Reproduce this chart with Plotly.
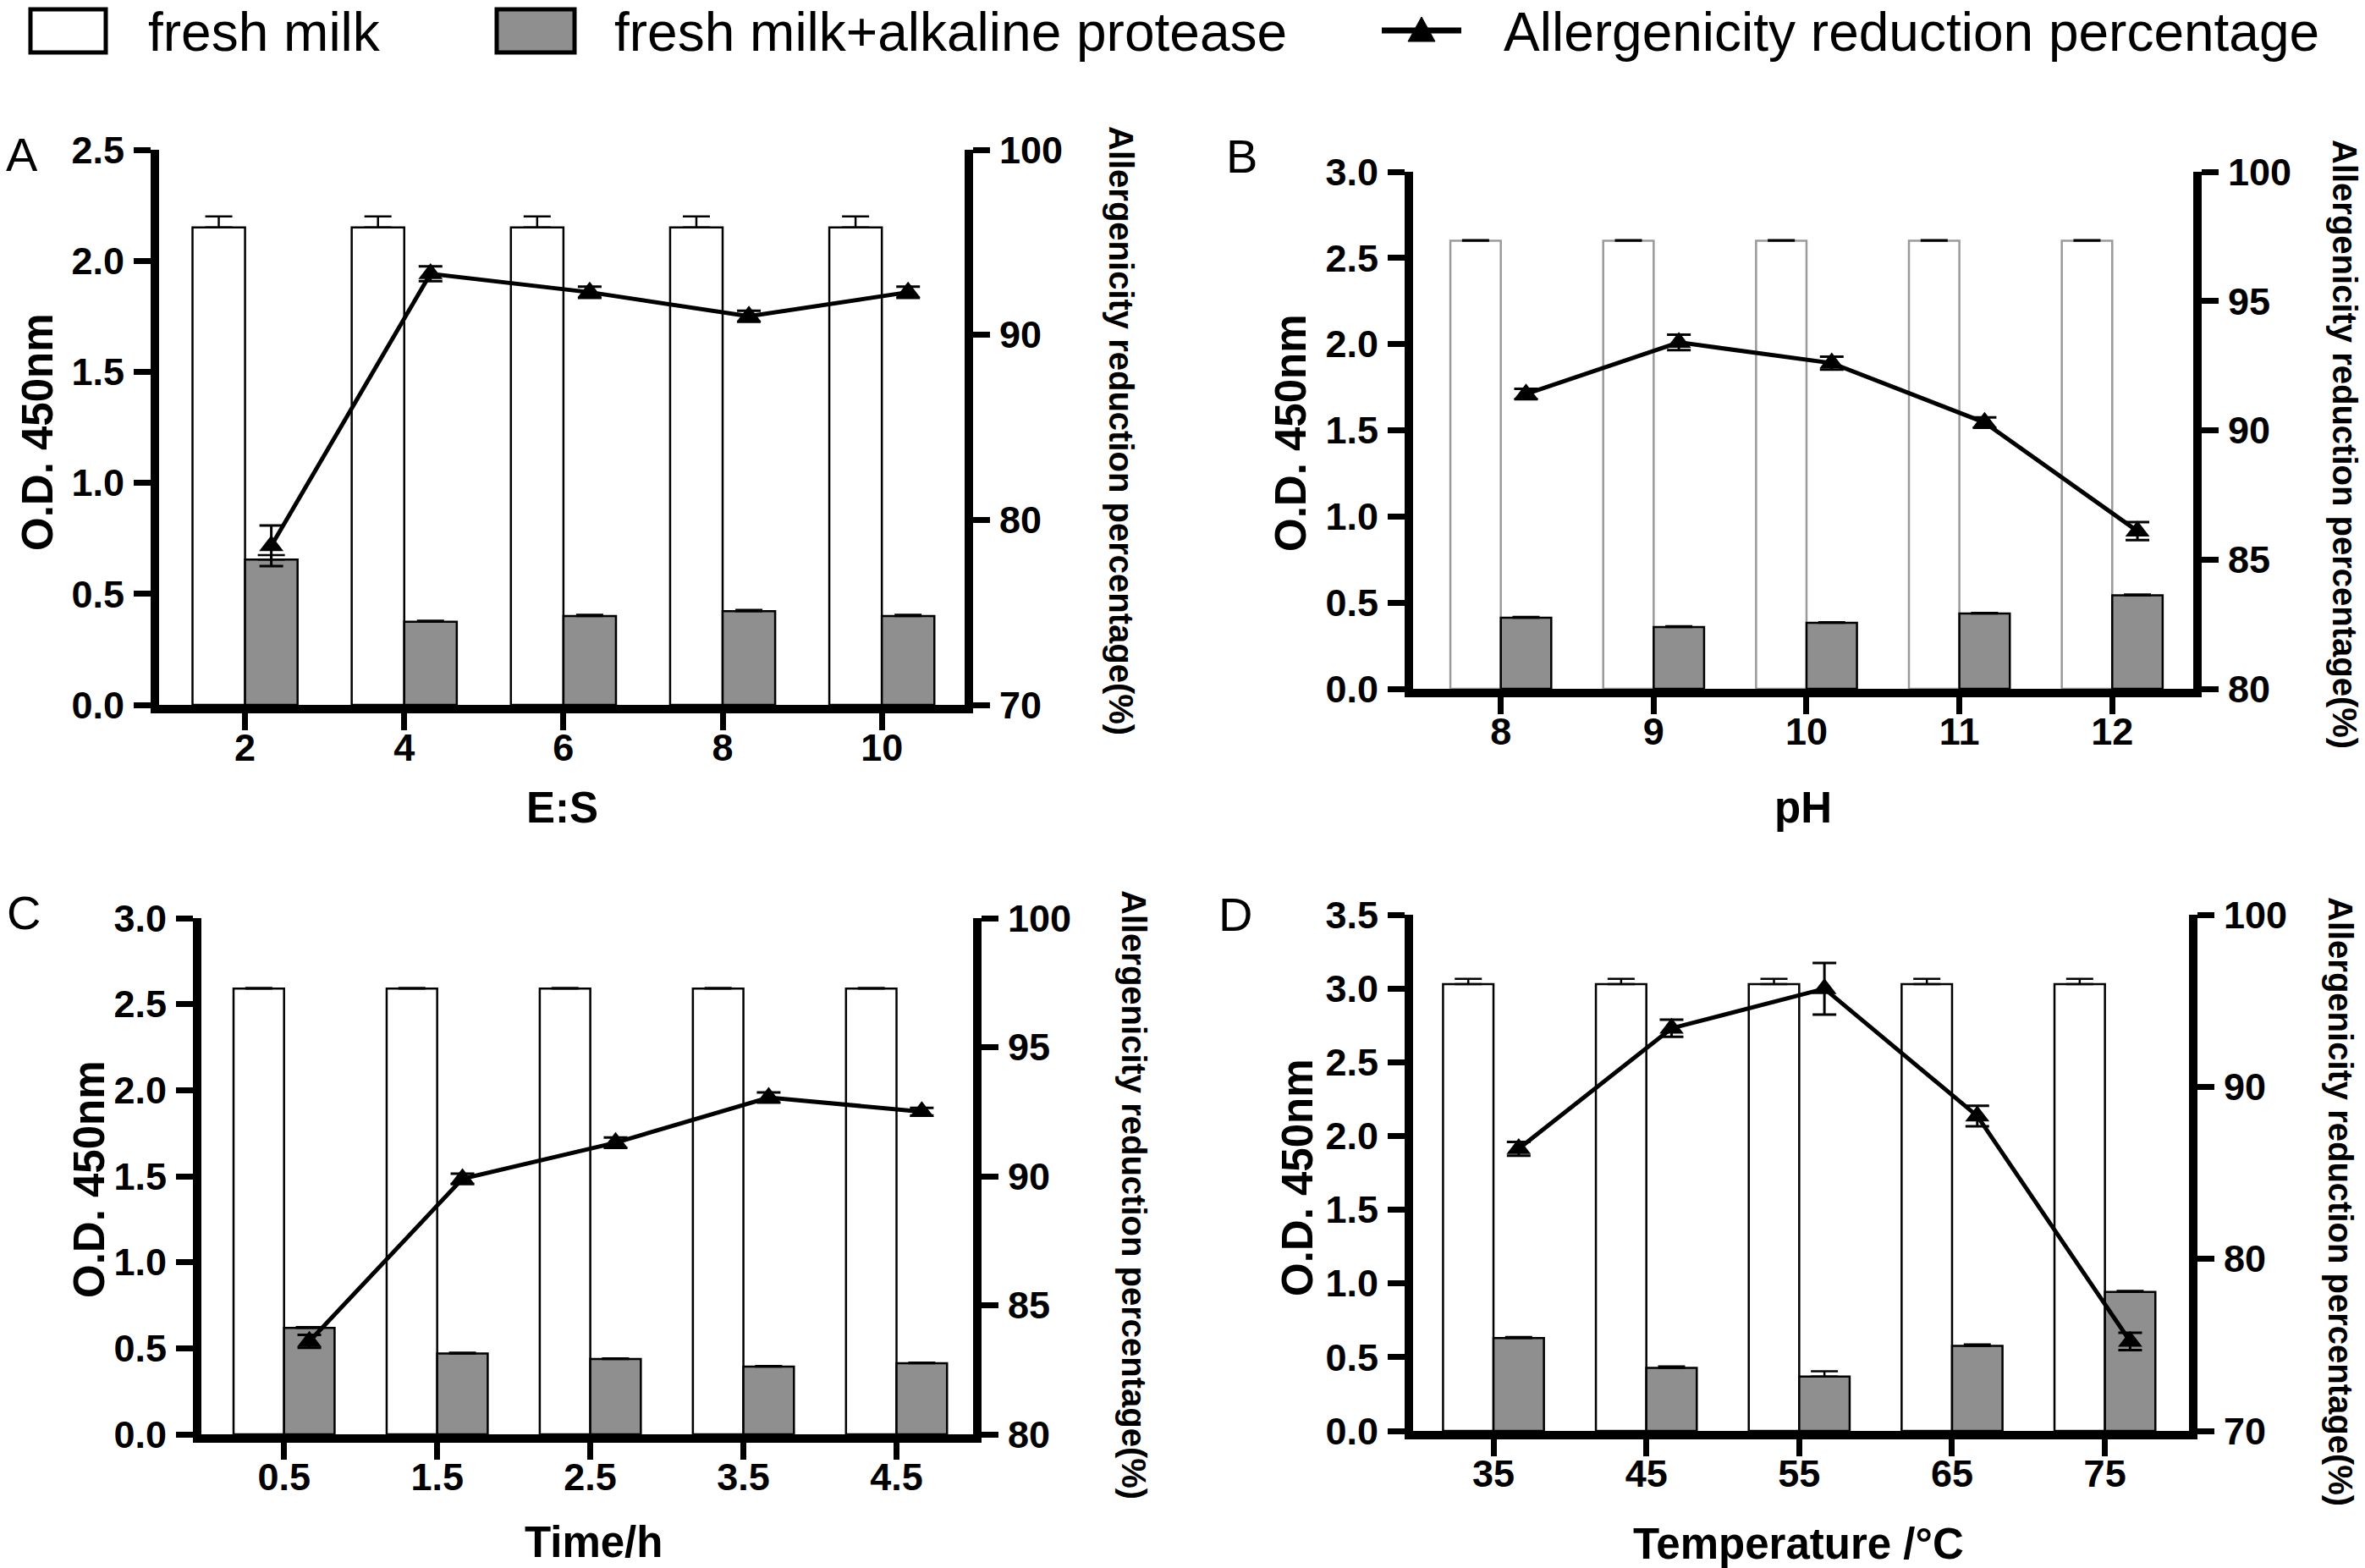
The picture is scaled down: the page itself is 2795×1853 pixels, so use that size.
import plotly.graph_objects as go

W, H = 2795, 1853
FONT = "Liberation Sans, Arial, Helvetica, sans-serif"

# ---------------- data ----------------
A_labels = ["2", "4", "6", "8", "10"]
A_fresh = [2.15, 2.15, 2.15, 2.15, 2.15]
A_fresh_err = [0.05, 0.05, 0.05, 0.05, 0.05]
A_prot = [0.655, 0.374, 0.400, 0.422, 0.400]
A_prot_err = [0.02, 0.005, 0.006, 0.006, 0.006]
A_red = [78.6, 93.3, 92.3, 91.0, 92.3]
A_red_err = [1.1, 0.4, 0.3, 0.3, 0.3]

B_labels = ["8", "9", "10", "11", "12"]
B_fresh = [2.60, 2.60, 2.60, 2.60, 2.60]
B_fresh_err = [0.004, 0.004, 0.004, 0.004, 0.004]
B_prot = [0.413, 0.359, 0.383, 0.437, 0.543]
B_prot_err = [0.004, 0.004, 0.004, 0.004, 0.004]
B_red = [91.4, 93.4, 92.6, 90.3, 86.1]
B_red_err = [0.2, 0.3, 0.25, 0.2, 0.35]

C_labels = ["0.5", "1.5", "2.5", "3.5", "4.5"]
C_fresh = [2.59, 2.59, 2.59, 2.59, 2.59]
C_fresh_err = [0.004, 0.004, 0.004, 0.004, 0.004]
C_prot = [0.618, 0.470, 0.438, 0.393, 0.413]
C_prot_err = [0.005, 0.004, 0.004, 0.004, 0.004]
C_red = [83.6, 89.9, 91.3, 93.05, 92.5]
C_red_err = [0.25, 0.2, 0.2, 0.2, 0.15]

D_labels = ["35", "45", "55", "65", "75"]
D_fresh = [3.03, 3.03, 3.03, 3.03, 3.03]
D_fresh_err = [0.035, 0.035, 0.035, 0.035, 0.035]
D_prot = [0.629, 0.428, 0.369, 0.576, 0.942]
D_prot_err = [0.008, 0.01, 0.035, 0.01, 0.008]
D_red = [86.4, 93.4, 95.7, 88.3, 75.2]
D_red_err = [0.4, 0.5, 1.5, 0.6, 0.5]

X_TITLES = ["E:S", "pH", "Time/h", "Temperature /°C"]
Y_TITLE = "O.D. 450nm"
Y2_TITLE = "Allergenicity reduction percentage(%)"
LEGEND_NAMES = ["fresh milk", "fresh milk+alkaline protease", "Allergenicity reduction percentage"]

GRAY = "#8f8f8f"
BARGAP = 0.34

# ---------------- layout geometry (pixels) ----------------
panels = [
    dict(letter="A", labels=A_labels, fresh=A_fresh, fresh_err=A_fresh_err, prot=A_prot, prot_err=A_prot_err,
         red=A_red, red_err=A_red_err, x0=188, x1=1140, ytop=177, ybot=833, xr=[-0.54, 4.52],
         yr=[0, 2.5], y2r=[70, 100], y2d=10, white_line="black",
         letter_pos=(26, 182), ytitle_pos=(45, 511), y2title_pos=(1325, 509), xtitle_pos=(664, 955)),
    dict(letter="B", labels=B_labels, fresh=B_fresh, fresh_err=B_fresh_err, prot=B_prot, prot_err=B_prot_err,
         red=B_red, red_err=B_red_err, x0=1670, x1=2592, ytop=203, ybot=814, xr=[-0.574, 4.53],
         yr=[0, 3.0], y2r=[80, 100], y2d=5, white_line="#9a9a9a",
         letter_pos=(1467, 185), ytitle_pos=(1525, 512), y2title_pos=(2771, 525), xtitle_pos=(2131, 955)),
    dict(letter="C", labels=C_labels, fresh=C_fresh, fresh_err=C_fresh_err, prot=C_prot, prot_err=C_prot_err,
         red=C_red, red_err=C_red_err, x0=238, x1=1150, ytop=1085, ybot=1695, xr=[-0.54, 4.5],
         yr=[0, 3.0], y2r=[80, 100], y2d=5, white_line="black",
         letter_pos=(28, 1078), ytitle_pos=(105, 1394), y2title_pos=(1340, 1412), xtitle_pos=(701, 1822)),
    dict(letter="D", labels=D_labels, fresh=D_fresh, fresh_err=D_fresh_err, prot=D_prot, prot_err=D_prot_err,
         red=D_red, red_err=D_red_err, x0=1670, x1=2587, ytop=1081, ybot=1691, xr=[-0.526, 4.55],
         yr=[0, 3.5], y2r=[70, 100], y2d=10, white_line="black",
         letter_pos=(1460, 1080), ytitle_pos=(1533, 1392), y2title_pos=(2766, 1420), xtitle_pos=(2125, 1824)),
]


def fx(px):
    return px / W


def fy(py):
    return 1 - py / H


fig = go.Figure()
layout = dict(
    width=W, height=H, margin=dict(l=0, r=0, t=0, b=0, pad=0, autoexpand=False),
    plot_bgcolor="white", paper_bgcolor="white",
    barmode="group", bargap=BARGAP, bargroupgap=0,
    showlegend=False, font=dict(family=FONT, color="black"),
)
annotations = []
shapes = []

tickfont = dict(family=FONT, size=45, color="black", weight="bold")
titlefont = dict(family=FONT, size=51, color="black", weight="bold")
AXW = 10

for i, p in enumerate(panels):
    n = i + 1
    xa = "x" if n == 1 else f"x{n}"
    ya = "y" if n == 1 else f"y{n}"
    ya2 = f"y{n + 4}"
    idx = list(range(len(p["labels"])))
    line_x = [k + (1 - BARGAP) / 4 for k in idx]

    fig.add_trace(go.Bar(
        x=idx, y=p["fresh"], xaxis=xa, yaxis=ya, name=LEGEND_NAMES[0],
        marker=dict(color="white", line=dict(color=p["white_line"], width=2.5)),
        error_y=dict(type="data", symmetric=False, array=p["fresh_err"], arrayminus=[0, 0, 0, 0, 0],
                     color="black", thickness=2.5, width=16),
        offsetgroup=f"w{n}",
    ))
    fig.add_trace(go.Bar(
        x=idx, y=p["prot"], xaxis=xa, yaxis=ya, name=LEGEND_NAMES[1],
        marker=dict(color=GRAY, line=dict(color="black", width=2.5)),
        error_y=dict(type="data", symmetric=False, array=p["prot_err"], arrayminus=[0, 0, 0, 0, 0],
                     color="black", thickness=2.5, width=16),
        offsetgroup=f"g{n}",
    ))
    fig.add_trace(go.Scatter(
        x=line_x, y=p["red"], xaxis=xa, yaxis=ya2, name=LEGEND_NAMES[2],
        mode="lines+markers",
        line=dict(color="black", width=5),
        marker=dict(symbol="triangle-up", size=25, color="black"),
        error_y=dict(type="data", array=p["red_err"], color="black", thickness=3, width=14),
    ))

    xkey = "xaxis" if n == 1 else f"xaxis{n}"
    ykey = "yaxis" if n == 1 else f"yaxis{n}"
    y2key = f"yaxis{n + 4}"
    common = dict(showline=True, linewidth=AXW, linecolor="black",
                  ticks="outside", ticklen=20, tickwidth=7, tickcolor="black",
                  tickfont=tickfont, showgrid=False, zeroline=False, automargin=False)
    layout[xkey] = dict(
        domain=[fx(p["x0"]), fx(p["x1"])], range=p["xr"], anchor=ya,
        tickmode="array", tickvals=idx, ticktext=p["labels"], ticklabelstandoff=-18, **common,
    )
    layout[ykey] = dict(
        domain=[fy(p["ybot"]), fy(p["ytop"])], range=p["yr"], anchor=xa,
        tick0=0, dtick=0.5, tickformat=".1f", ticklabelstandoff=2, **common,
    )
    layout[y2key] = dict(
        overlaying=ya, side="right", anchor=xa, range=p["y2r"],
        tick0=p["y2r"][0], dtick=p["y2d"], ticklabelstandoff=2, **common,
    )

    lx, ly = p["letter_pos"]
    annotations.append(dict(text=p["letter"], x=fx(lx), y=fy(ly), xref="paper", yref="paper",
                            showarrow=False, xanchor="center", yanchor="middle",
                            font=dict(family=FONT, size=56, color="black")))
    tx, ty = p["ytitle_pos"]
    annotations.append(dict(text=Y_TITLE, x=fx(tx), y=fy(ty), xref="paper", yref="paper",
                            showarrow=False, textangle=-90, xanchor="center", yanchor="middle",
                            font=titlefont))
    tx, ty = p["y2title_pos"]
    annotations.append(dict(text=Y2_TITLE, x=fx(tx), y=fy(ty), xref="paper", yref="paper",
                            showarrow=False, textangle=90, xanchor="center", yanchor="middle",
                            font=dict(family=FONT, size=40, color="black", weight="bold")))
    tx, ty = p["xtitle_pos"]
    annotations.append(dict(text=X_TITLES[i], x=fx(tx), y=fy(ty), xref="paper", yref="paper",
                            showarrow=False, xanchor="center", yanchor="middle", font=titlefont))

# ---------------- legend (drawn manually to match the reference) ----------------
LEG_Y = 36
shapes.append(dict(type="rect", xref="paper", yref="paper", x0=fx(36), x1=fx(125), y0=fy(11), y1=fy(62),
                   fillcolor="white", line=dict(color="black", width=5)))
shapes.append(dict(type="rect", xref="paper", yref="paper", x0=fx(587), x1=fx(679), y0=fy(11), y1=fy(62),
                   fillcolor=GRAY, line=dict(color="black", width=5)))
shapes.append(dict(type="line", xref="paper", yref="paper", x0=fx(1633), x1=fx(1727), y0=fy(LEG_Y), y1=fy(LEG_Y),
                   line=dict(color="black", width=7)))
shapes.append(dict(type="path", xref="paper", yref="paper",
                   path=f"M {fx(1664)} {fy(49)} L {fx(1696)} {fy(49)} L {fx(1680)} {fy(20)} Z",
                   fillcolor="black", line=dict(color="black", width=1)))
for name, x in zip(LEGEND_NAMES, [173, 724, 1775]):
    annotations.append(dict(text=name, x=fx(x), y=1.0, xref="paper", yref="paper", showarrow=False,
                            xanchor="left", yanchor="top", font=dict(family=FONT, size=64, color="black")))

layout["annotations"] = annotations
layout["shapes"] = shapes
fig.update_layout(**layout)
fig.write_html("out.html", config={"displayModeBar": False},
               post_script="document.body.style.margin='0';")
